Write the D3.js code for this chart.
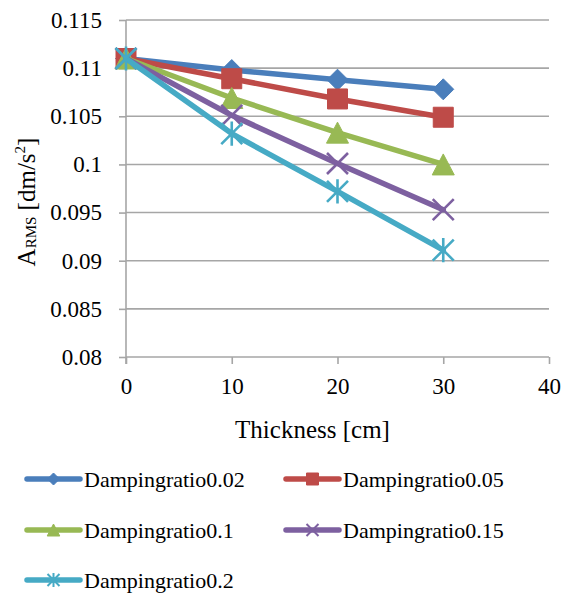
<!DOCTYPE html>
<html>
<head>
<meta charset="utf-8">
<script src="https://cdn.jsdelivr.net/npm/d3@7"></script>
<style>
  html, body { margin: 0; padding: 0; background: #fff; }
  svg { display: block; }
</style>
</head>
<body>
<svg id="chart" width="574" height="595"></svg>
<script>
// Thickness values on the x axis [cm]
const thickness = [0, 10, 20, 30];

// Series names and RMS acceleration values [dm/s^2]
const seriesNames = ["Dampingratio0.02", "Dampingratio0.05", "Dampingratio0.1", "Dampingratio0.15", "Dampingratio0.2"];
const ratio002 = [0.111, 0.1098, 0.1088, 0.1078];
const ratio005 = [0.111, 0.1089, 0.1068, 0.1049];
const ratio010 = [0.111, 0.1069, 0.1033, 0.1000];
const ratio015 = [0.111, 0.1051, 0.1001, 0.0953];
const ratio020 = [0.111, 0.1032, 0.0972, 0.0911];
const seriesValues = [ratio002, ratio005, ratio010, ratio015, ratio020];

// Axis ticks
const xTicks = [0, 10, 20, 30, 40];
const yTicks = [0.08, 0.085, 0.09, 0.095, 0.1, 0.105, 0.11, 0.115];

const colors = ["#4a7ebb", "#be4b48", "#98b954", "#7d60a0", "#46aac5"];
const markerKinds = ["diamond", "square", "triangle", "x", "star"];

const FONT = "'Liberation Serif', 'Times New Roman', serif";

const svg = d3.select("#chart");

const x = d3.scaleLinear().domain([0, 40]).range([126, 549]);
const y = d3.scaleLinear().domain([0.08, 0.115]).range([357, 20]);

const gridColor = "#a6a6a6";

// Horizontal gridlines
svg.append("g")
  .selectAll("line")
  .data(yTicks)
  .join("line")
  .attr("x1", x(0)).attr("x2", x(40))
  .attr("y1", d => y(d)).attr("y2", d => y(d))
  .attr("stroke", gridColor).attr("stroke-width", 1.6);

// Y axis
const yAxis = svg.append("g")
  .attr("transform", `translate(${x(0)},0)`)
  .call(d3.axisLeft(y).tickValues(yTicks).tickSize(7).tickPadding(17)
    .tickFormat(d => String(+d.toFixed(3))));
yAxis.select(".domain").remove();
yAxis.append("line").attr("x1", 0).attr("x2", 0).attr("y1", y(0.115)).attr("y2", y(0.08) + 7)
  .attr("stroke", gridColor).attr("stroke-width", 1.6);
yAxis.selectAll(".tick line").attr("stroke", gridColor).attr("stroke-width", 1.6);
yAxis.selectAll(".tick text")
  .style("font-family", FONT).style("font-size", "23px").attr("fill", "#000");

// X axis
const xAxis = svg.append("g")
  .attr("transform", `translate(0,${y(0.08)})`)
  .call(d3.axisBottom(x).tickValues(xTicks).tickSize(7).tickPadding(14));
xAxis.select(".domain").remove();
xAxis.selectAll(".tick line").attr("stroke", gridColor).attr("stroke-width", 1.6);
xAxis.selectAll(".tick text")
  .style("font-family", FONT).style("font-size", "23px").attr("fill", "#000");

// Axis titles
svg.append("text")
  .attr("x", (x(0) + x(40)) / 2 - 25).attr("y", 438)
  .attr("text-anchor", "middle")
  .style("font-family", FONT).style("font-size", "25px")
  .text("Thickness [cm]");

const yTitle = svg.append("text")
  .attr("transform", "translate(35,202) rotate(-90)")
  .attr("text-anchor", "middle")
  .style("font-family", FONT).style("font-size", "25px");
yTitle.append("tspan").text("A");
yTitle.append("tspan").style("font-size", "15px").attr("dy", 1).text("RMS");
yTitle.append("tspan").attr("dy", -1).text(" [dm/s");
yTitle.append("tspan").style("font-size", "15px").attr("dy", -10).text("2");
yTitle.append("tspan").attr("dy", 10).text("]");

// Marker shapes centred on (0,0), scaled by half-size r
function markerPath(kind, r) {
  const p = d3.path();
  if (kind === "diamond") {
    p.moveTo(0, -r); p.lineTo(r, 0); p.lineTo(0, r); p.lineTo(-r, 0); p.closePath();
  } else if (kind === "square") {
    p.rect(-r, -r, 2 * r, 2 * r);
  } else if (kind === "triangle") {
    p.moveTo(0, -r); p.lineTo(r * 1.05, r); p.lineTo(-r * 1.05, r); p.closePath();
  } else if (kind === "x") {
    p.moveTo(-r, -r); p.lineTo(r, r); p.moveTo(-r, r); p.lineTo(r, -r);
  } else if (kind === "star") {
    p.moveTo(-r, -r); p.lineTo(r, r); p.moveTo(-r, r); p.lineTo(r, -r);
    p.moveTo(0, -r * 1.15); p.lineTo(0, r * 1.15);
  }
  return p.toString();
}
const isStroked = k => k === "x" || k === "star";

const line = d3.line().x((d, i) => x(thickness[i])).y(d => y(d));

// Series lines and markers
seriesValues.forEach((vals, si) => {
  const g = svg.append("g");
  g.append("path")
    .attr("d", line(vals))
    .attr("fill", "none")
    .attr("stroke", colors[si])
    .attr("stroke-width", 5.5)
    .attr("stroke-linejoin", "round")
    .attr("stroke-linecap", "round");
  const kind = markerKinds[si];
  g.selectAll("path.m")
    .data(vals)
    .join("path")
    .attr("class", "m")
    .attr("transform", (d, i) => `translate(${x(thickness[i])},${y(d)})`)
    .attr("d", markerPath(kind, kind === "square" ? 10 : 10.5))
    .attr("fill", isStroked(kind) ? "none" : colors[si])
    .attr("stroke", colors[si])
    .attr("stroke-width", isStroked(kind) ? 2.6 : 1);
});

// Legend
const legendPos = [[27, 479], [286, 479], [27, 530], [286, 530], [27, 580]];
const legend = svg.append("g");
seriesNames.forEach((name, si) => {
  const [lx, ly] = legendPos[si];
  const kind = markerKinds[si];
  legend.append("line")
    .attr("x1", lx).attr("x2", lx + 53).attr("y1", ly).attr("y2", ly)
    .attr("stroke", colors[si]).attr("stroke-width", 5.5).attr("stroke-linecap", "round");
  legend.append("path")
    .attr("transform", `translate(${lx + 26.5},${ly})`)
    .attr("d", markerPath(kind, 6))
    .attr("fill", isStroked(kind) ? "none" : colors[si])
    .attr("stroke", colors[si])
    .attr("stroke-width", isStroked(kind) ? 2 : 1);
  legend.append("text")
    .attr("x", lx + 57).attr("y", ly + 8)
    .style("font-family", FONT).style("font-size", "22px")
    .text(name);
});
</script>
</body>
</html>
